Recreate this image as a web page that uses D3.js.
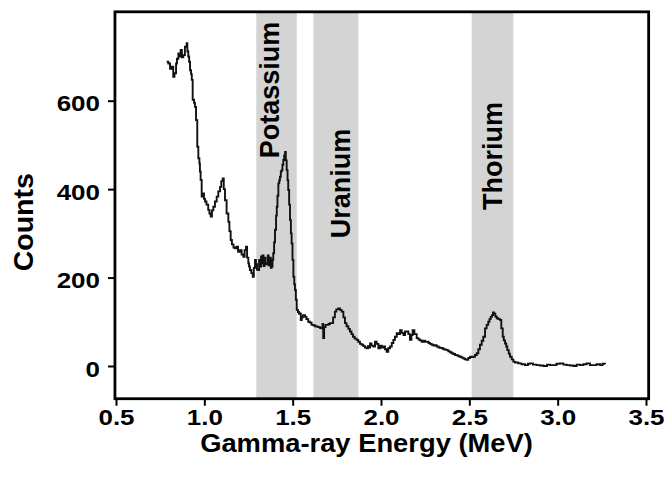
<!DOCTYPE html>
<html>
<head>
<meta charset="utf-8">
<script src="https://cdn.jsdelivr.net/npm/d3@7"></script>
<style>
  body { margin: 0; background: #fff; }
  svg { display: block; }
  text { font-family: "Liberation Sans", Arial, Helvetica, sans-serif; font-weight: bold; fill: #000; }
</style>
</head>
<body>
<svg id="chart" width="666" height="478"></svg>
<script>
// Gamma-ray spectrum: channel energy (MeV) and counts
const energy = [
  0.787, 0.796, 0.806, 0.815, 0.824, 0.831, 0.840, 0.845, 0.853, 0.859,
  0.866, 0.873, 0.881, 0.890, 0.900, 0.904, 0.909, 0.914, 0.919, 0.925,
  0.929, 0.934, 0.942, 0.947, 0.953, 0.960, 0.966, 0.972, 0.975, 0.979,
  0.985, 0.992, 0.998, 1.004, 1.012, 1.022, 1.029, 1.036, 1.043, 1.051,
  1.060, 1.070, 1.079, 1.089, 1.096, 1.104, 1.110, 1.117, 1.126, 1.136,
  1.142, 1.149, 1.156, 1.165, 1.174, 1.182, 1.191, 1.202, 1.211, 1.221,
  1.228, 1.236, 1.242, 1.249, 1.253, 1.258, 1.266, 1.274, 1.280, 1.287,
  1.292, 1.298, 1.305, 1.310, 1.315, 1.321, 1.325, 1.330, 1.335, 1.341,
  1.346, 1.353, 1.359, 1.364, 1.370, 1.376, 1.381, 1.386, 1.390, 1.395,
  1.400, 1.406, 1.410, 1.414, 1.419, 1.424, 1.428, 1.433, 1.438, 1.442,
  1.447, 1.452, 1.457, 1.461, 1.466, 1.471, 1.475, 1.480, 1.485, 1.490,
  1.494, 1.499, 1.504, 1.509, 1.513, 1.518, 1.523, 1.530, 1.536, 1.541,
  1.546, 1.551, 1.558, 1.570, 1.578, 1.588, 1.598, 1.607, 1.617, 1.626,
  1.635, 1.645, 1.655, 1.664, 1.669, 1.673, 1.678, 1.686, 1.693, 1.703,
  1.711, 1.720, 1.729, 1.739, 1.747, 1.758, 1.768, 1.777, 1.787, 1.796,
  1.805, 1.815, 1.824, 1.833, 1.841, 1.851, 1.862, 1.871, 1.881, 1.890,
  1.900, 1.909, 1.919, 1.926, 1.932, 1.938, 1.946, 1.956, 1.966, 1.975,
  1.985, 1.994, 2.004, 2.013, 2.023, 2.032, 2.041, 2.051, 2.061, 2.070,
  2.079, 2.089, 2.098, 2.108, 2.117, 2.127, 2.136, 2.145, 2.155, 2.164,
  2.172, 2.179, 2.189, 2.202, 2.212, 2.221, 2.230, 2.240, 2.249, 2.259,
  2.269, 2.277, 2.287, 2.297, 2.306, 2.315, 2.326, 2.334, 2.344, 2.353,
  2.362, 2.372, 2.381, 2.391, 2.400, 2.409, 2.419, 2.428, 2.438, 2.447,
  2.456, 2.466, 2.475, 2.485, 2.494, 2.504, 2.513, 2.523, 2.532, 2.542,
  2.551, 2.560, 2.570, 2.579, 2.589, 2.598, 2.607, 2.614, 2.621, 2.628,
  2.634, 2.640, 2.647, 2.655, 2.664, 2.674, 2.681, 2.689, 2.695, 2.702,
  2.709, 2.715, 2.723, 2.730, 2.740, 2.749, 2.758, 2.777, 2.795, 2.815,
  2.832, 2.843, 2.860, 2.881, 2.900, 2.919, 2.940, 2.957, 2.975, 2.993,
  3.013, 3.032, 3.051, 3.070, 3.089, 3.107, 3.126, 3.145, 3.164, 3.183,
  3.202, 3.220, 3.240, 3.254, 3.268
];
const counts = [
  688, 684, 672, 677, 654, 662, 684, 695, 707, 700,
  715, 698, 703, 722, 730, 712, 700, 688, 669, 660,
  647, 602, 595, 586, 556, 496, 470, 458, 440, 421,
  383, 390, 378, 372, 365, 353, 345, 338, 352, 360,
  372, 383, 395, 405, 418, 424, 400, 375, 345, 326,
  305, 285, 275, 268, 266, 270, 258, 262, 252, 247,
  262, 270, 245, 232, 225, 217, 210, 202, 222, 240,
  230, 218, 217, 240, 225, 248, 232, 250, 226, 245,
  230, 232, 250, 228, 245, 222, 225, 240, 255, 280,
  308, 340, 360, 385, 413, 420, 428, 440, 443, 455,
  466, 476, 484, 465, 443, 420, 398, 365, 330, 300,
  277, 240, 202, 185, 172, 150, 127, 122, 118, 119,
  104, 110, 115, 111, 106, 100, 98, 93, 92, 90,
  89, 88, 86, 85, 95, 63, 88, 93, 93, 95,
  97, 97, 110, 123, 128, 130, 127, 123, 110, 97,
  90, 84, 78, 72, 66, 62, 59, 55, 50, 48,
  45, 42, 40, 45, 42, 51, 46, 44, 55, 50,
  40, 46, 42, 44, 38, 32, 40, 44, 52, 59,
  66, 74, 72, 81, 75, 70, 78, 78, 72, 59,
  70, 81, 72, 63, 60, 58, 55, 57, 55, 55,
  52, 50, 48, 46, 47, 44, 42, 41, 40, 38,
  37, 36, 33, 31, 29, 27, 25, 24, 22, 21,
  19, 17, 15, 14, 18, 21, 20, 21, 25, 29,
  38, 48, 57, 66, 85, 93, 100, 106, 111, 115,
  121, 118, 112, 108, 106, 104, 85, 66, 58, 51,
  44, 36, 28, 21, 15, 10, 8, 6, 4, 2,
  5, 6, 3, 2, 1, 0, 3, 2, 2, 5,
  6, 3, 2, 1, 0, 3, 2, 4, 6, 2,
  2, 4, 2, 5, 4
];

// Shaded windows for the three radioelement photopeaks
const bandNames = ["Potassium", "Uranium", "Thorium"];
const bandLow = [1.294, 1.617, 2.513];
const bandHigh = [1.523, 1.872, 2.749];
// Label anchors (baseline energy, start count) for the rotated band names
const labelEnergy = [1.423, 1.825, 2.683];
const labelCount = [470, 289, 353];

const xTicks = [0.5, 1.0, 1.5, 2.0, 2.5, 3.0, 3.5];
const yTicks = [0, 200, 400, 600];

const svg = d3.select("#chart");

const x = d3.scaleLinear().domain([0.5, 3.5]).range([116, 646]);
const y = d3.scaleLinear().domain([0, 600]).range([366, 100.7]);

// plotting frame, slightly beyond the tick range
const frameE = [0.494, 3.515];
const frameC = [-74, 801];
const fx0 = x(frameE[0]), fx1 = x(frameE[1]);
const fy0 = y(frameC[1]), fy1 = y(frameC[0]);

// bands
const bands = bandNames.map((n, i) => ({ name: n, lo: bandLow[i], hi: bandHigh[i], le: labelEnergy[i], lc: labelCount[i] }));
svg.append("g").selectAll("rect").data(bands).join("rect")
  .attr("x", d => x(d.lo))
  .attr("width", d => x(d.hi) - x(d.lo))
  .attr("y", fy0)
  .attr("height", fy1 - fy0)
  .attr("fill", "#d4d4d4");

svg.append("g").selectAll("text").data(bands).join("text")
  .attr("transform", d => `translate(${x(d.le)},${y(d.lc)}) rotate(-90)`)
  .attr("font-size", 27)
  .text(d => d.name);

// spectrum
const pts = energy.map((e, i) => [e, counts[i]]);
svg.append("path")
  .datum(pts)
  .attr("fill", "none")
  .attr("stroke", "#111")
  .attr("stroke-width", 1.9)
  .attr("stroke-linejoin", "miter")
  .attr("d", d3.line().x(d => x(d[0])).y(d => y(d[1])).curve(d3.curveStepAfter));

// frame
svg.append("rect")
  .attr("x", fx0).attr("y", fy0)
  .attr("width", fx1 - fx0).attr("height", fy1 - fy0)
  .attr("fill", "none").attr("stroke", "#000").attr("stroke-width", 2.8);

// tick labels are set in a slightly widened bold face
const tickStretch = 1.18;

// x axis
const xAxis = d3.axisBottom(x).tickValues(xTicks).tickSize(7).tickFormat(d3.format(".1f"));
const gx = svg.append("g").attr("transform", `translate(0,${fy1})`).call(xAxis);
gx.select(".domain").remove();
gx.selectAll(".tick line").attr("stroke", "#000").attr("stroke-width", 2);
gx.selectAll(".tick text")
  .attr("y", null).attr("dy", null)
  .attr("font-size", 22)
  .attr("font-family", null)
  .attr("transform", `translate(0,26) scale(${tickStretch},1)`);

// y axis
const yAxis = d3.axisLeft(y).tickValues(yTicks).tickSize(7).tickFormat(d3.format("d"));
const gy = svg.append("g").attr("transform", `translate(${fx0},0)`).call(yAxis);
gy.select(".domain").remove();
gy.selectAll(".tick line").attr("stroke", "#000").attr("stroke-width", 2);
gy.selectAll(".tick text")
  .attr("x", null).attr("dy", null)
  .attr("font-size", 22)
  .attr("font-family", null)
  .attr("transform", `translate(-15,10) scale(${tickStretch},1)`);
svg.selectAll(".tick text").attr("fill", "#000");

// axis titles
const xTitle = svg.append("text")
  .attr("text-anchor", "middle")
  .attr("font-size", 25)
  .text("Gamma-ray Energy (MeV)");
const xTitleStretch = 333 / xTitle.node().getComputedTextLength();
xTitle.attr("transform", `translate(366.5,452) scale(${xTitleStretch},1)`);

svg.append("text")
  .attr("transform", `translate(33,${(fy0 + fy1) / 2 + 17}) rotate(-90)`)
  .attr("text-anchor", "middle")
  .attr("font-size", 28.5)
  .text("Counts");
</script>
</body>
</html>
